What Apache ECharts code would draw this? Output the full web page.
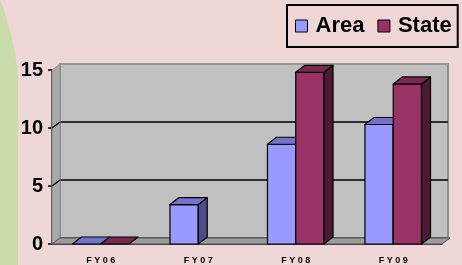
<!DOCTYPE html>
<html>
<head>
<meta charset="utf-8">
<script src="https://cdn.jsdelivr.net/npm/echarts@6.0.0/dist/echarts.min.js"></script>
<style>
  html, body { margin: 0; padding: 0; background: #efd7d7; }
  #chart { width: 462px; height: 265px; }
</style>
</head>
<body>
<div id="chart"></div>
<script>
// data (null = no bar drawn)
var categories = ['F Y 0 6', 'F Y 0 7', 'F Y 0 8', 'F Y 0 9'];
var areaValues = [0, 3.4, 8.6, 10.3];
var stateValues = [0, null, 14.8, 13.8];

// 3d look: offset of the depth faces
var DX = 9, DY = -7;

function bar3d(side, front, topc, sidec) {
  return function (params, api) {
    var cat = api.value(0), val = api.value(1);
    if (val == null || isNaN(val)) return null;
    var base = api.coord([cat, 0]);
    var top = api.coord([cat, val]);
    var w = api.size([1, 0])[0] * 0.29;
    var x0 = side < 0 ? base[0] - w : base[0];
    var st = { stroke: '#000', lineWidth: 1.2, lineJoin: 'round' };
    var kids = [];
    if (base[1] - top[1] > 0.5) {
      kids.push({ type: 'rect', shape: { x: x0, y: top[1], width: w, height: base[1] - top[1] },
        style: Object.assign({ fill: front }, st) });
      kids.push({ type: 'polygon', shape: { points: [[x0 + w, top[1]], [x0 + w + DX, top[1] + DY],
        [x0 + w + DX, base[1] + DY], [x0 + w, base[1]]] }, style: Object.assign({ fill: sidec }, st) });
    }
    kids.push({ type: 'polygon', shape: { points: [[x0, top[1]], [x0 + w, top[1]],
      [x0 + w + DX, top[1] + DY], [x0 + DX, top[1] + DY]] }, style: Object.assign({ fill: topc }, st) });
    return { type: 'group', children: kids };
  };
}

function toData(arr) {
  return arr.map(function (v, i) { return [i, v == null ? '-' : v]; });
}

var chart = echarts.init(document.getElementById('chart'));
var option = {
  backgroundColor: '#efd7d7',
  animation: false,
  textStyle: { fontFamily: 'Liberation Sans, Arial, sans-serif' },
  legend: {
    left: 287, top: 5,
    padding: [10, 6, 10, 8],
    borderColor: '#000', borderWidth: 2,
    itemWidth: 12, itemHeight: 12, itemGap: 13,
    icon: 'rect',
    itemStyle: { borderColor: '#000', borderWidth: 1 },
    textStyle: { fontSize: 22, fontWeight: 'bold', color: '#000', padding: [0, 0, 0, 3] },
    data: ['Area', 'State']
  },
  grid: [
    { left: 52, right: 20, top: 70, bottom: 21 },
    { left: 60, right: 14, top: 64, bottom: 27, show: true, backgroundColor: '#c0c0c0',
      borderColor: '#8e8e8e', borderWidth: 2 }
  ],
  xAxis: [
    { type: 'category', gridIndex: 0, data: categories,
      axisLine: { lineStyle: { color: '#000', width: 1.5 } },
      axisTick: { length: 4, lineStyle: { color: '#000', width: 1.5 } },
      axisLabel: { fontSize: 9, fontWeight: 'bold', color: '#000', margin: 12 } },
    { type: 'value', gridIndex: 1, show: false }
  ],
  yAxis: [
    { type: 'value', gridIndex: 0, min: 0, max: 15, interval: 5,
      axisLine: { show: true, lineStyle: { color: '#000', width: 1.5 } },
      axisTick: { show: true, length: 4, lineStyle: { color: '#000', width: 1.5 } },
      axisLabel: { fontSize: 20, fontWeight: 'bold', color: '#000', margin: 9 },
      splitLine: { show: false } },
    { type: 'value', gridIndex: 1, min: 0, max: 15, interval: 5,
      axisLine: { show: false }, axisTick: { show: false }, axisLabel: { show: false },
      splitLine: { lineStyle: { color: ['#555', '#000', '#000', '#9a9a9a'], width: 1.5 } } }
  ],
  graphic: [
    { type: 'polygon', z: -10,
      shape: { points: [[0, 0], [4, 10], [8, 24], [12, 38], [15, 53], [17, 66], [18, 78], [18, 265], [0, 265]] },
      style: { fill: '#c9dcaa' } },
    { type: 'polygon', z: 1, shape: { points: [[52, 70], [60, 64], [60, 238], [52, 244]] },
      style: { fill: '#a9a9a9', stroke: '#8a8a8a', lineWidth: 1 } },
    { type: 'line', z: 1, shape: { x1: 52, y1: 128, x2: 60, y2: 122 }, style: { stroke: '#000', lineWidth: 1.5 } },
    { type: 'line', z: 1, shape: { x1: 52, y1: 186, x2: 60, y2: 180 }, style: { stroke: '#000', lineWidth: 1.5 } },
    { type: 'polygon', z: 1, shape: { points: [[52, 244], [60, 238], [450, 238], [442, 244]] },
      style: { fill: '#9c9c9c', stroke: '#555', lineWidth: 1 } }
  ],
  series: [
    { name: 'Area', type: 'custom', xAxisIndex: 0, yAxisIndex: 0, z: 5, clip: false,
      itemStyle: { color: '#9999ff' },
      renderItem: bar3d(-1, '#9999ff', '#7373cc', '#4d4d8c'),
      data: toData(areaValues) },
    { name: 'State', type: 'custom', xAxisIndex: 0, yAxisIndex: 0, z: 5, clip: false,
      itemStyle: { color: '#993366' },
      renderItem: bar3d(1, '#993366', '#7a2952', '#4d1a33'),
      data: toData(stateValues) }
  ]
};
chart.setOption(option);
</script>
</body>
</html>
